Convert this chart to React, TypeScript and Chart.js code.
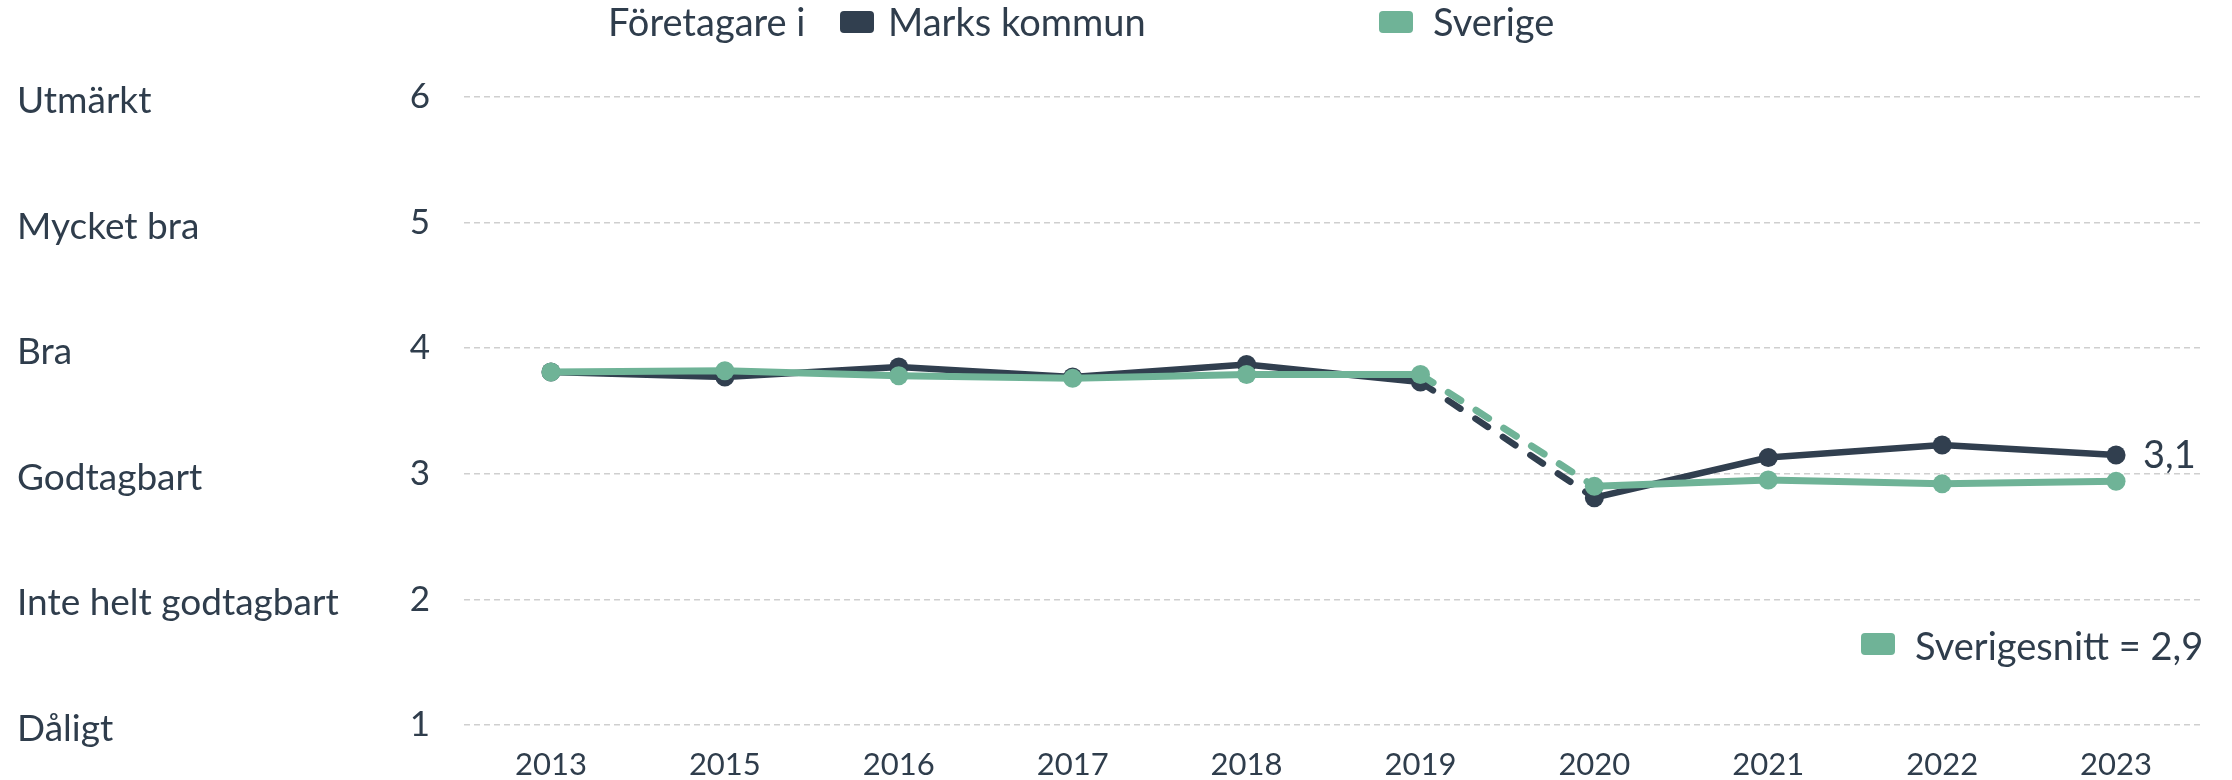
import React, { useEffect, useRef } from "react";
import { Chart, registerables } from "chart.js";

Chart.register(...registerables);

const years = ["2013", "2015", "2016", "2017", "2018", "2019", "2020", "2021", "2022", "2023"];
const marksKommun = [3.81, 3.77, 3.85, 3.77, 3.87, 3.73, 2.81, 3.13, 3.23, 3.15];
const sverige = [3.81, 3.82, 3.78, 3.76, 3.79, 3.79, 2.9, 2.95, 2.92, 2.94];
const yTickValues = [1, 2, 3, 4, 5, 6];
const ratingLabels = ["Dåligt", "Inte helt godtagbart", "Godtagbart", "Bra", "Mycket bra", "Utmärkt"];
const legendTitle = "Företagare i";
const seriesNames = ["Marks kommun", "Sverige"];
const averageLabel = "Sverigesnitt = 2,9";
const lastValueLabel = "3,1";

const DARK = "#313f4f";
const GREEN = "#6fb397";
const TEXT = "#2f3d4c";
const FONT = "Lato, 'Open Sans', sans-serif";

function roundRect(ctx: CanvasRenderingContext2D, x: number, y: number, w: number, h: number, r: number) {
  ctx.beginPath();
  ctx.moveTo(x + r, y);
  ctx.lineTo(x + w - r, y);
  ctx.quadraticCurveTo(x + w, y, x + w, y + r);
  ctx.lineTo(x + w, y + h - r);
  ctx.quadraticCurveTo(x + w, y + h, x + w - r, y + h);
  ctx.lineTo(x + r, y + h);
  ctx.quadraticCurveTo(x, y + h, x, y + h - r);
  ctx.lineTo(x, y + r);
  ctx.quadraticCurveTo(x, y, x + r, y);
  ctx.closePath();
  ctx.fill();
}

const annotationsPlugin = {
  id: "annotations",
  afterDraw(chart: any) {
    const ctx: CanvasRenderingContext2D = chart.ctx;
    const yScale = chart.scales.y;
    ctx.save();
    ctx.fillStyle = TEXT;
    ctx.textAlign = "left";
    ctx.textBaseline = "middle";
    ctx.font = `37px ${FONT}`;
    yTickValues.forEach((v, i) => {
      ctx.fillText(ratingLabels[i], 17, yScale.getPixelForValue(v) + 4);
    });

    // top legend
    ctx.textBaseline = "alphabetic";
    ctx.font = `38px ${FONT}`;
    ctx.fillStyle = TEXT;
    ctx.fillText(legendTitle, 608, 36);
    ctx.fillStyle = DARK;
    roundRect(ctx, 840, 11, 34, 22, 4);
    ctx.fillStyle = TEXT;
    ctx.fillText(seriesNames[0], 888, 36);
    ctx.fillStyle = GREEN;
    roundRect(ctx, 1379, 11, 34, 22, 4);
    ctx.fillStyle = TEXT;
    ctx.fillText(seriesNames[1], 1433, 36);

    // average legend
    ctx.fillStyle = GREEN;
    roundRect(ctx, 1861, 633, 34, 22, 4);
    ctx.fillStyle = TEXT;
    ctx.fillText(averageLabel, 1915, 660);

    // last value label
    const meta = chart.getDatasetMeta(1);
    const last = meta.data[meta.data.length - 1];
    ctx.font = `38px ${FONT}`;
    ctx.textBaseline = "middle";
    ctx.fillText(lastValueLabel, last.x + 27, last.y + 1);
    ctx.restore();
  },
};

export default function App() {
  const canvasRef = useRef<HTMLCanvasElement | null>(null);

  useEffect(() => {
    document.body.style.margin = "0";
    const canvas = canvasRef.current;
    if (!canvas) return;
    const dash = (ctx: any) => (ctx.p0DataIndex === 5 ? [15, 18] : undefined);
    const chart = new Chart(canvas, {
      type: "line",
      data: {
        labels: years,
        datasets: [
          {
            label: seriesNames[1],
            data: sverige,
            borderColor: GREEN,
            backgroundColor: GREEN,
            pointBackgroundColor: GREEN,
            pointBorderColor: GREEN,
            borderWidth: 7,
            pointRadius: 9.5,
            pointBorderWidth: 0,
            borderCapStyle: "round",
            borderJoinStyle: "round",
            tension: 0,
            order: 0,
            segment: { borderDash: dash },
          },
          {
            label: seriesNames[0],
            data: marksKommun,
            borderColor: DARK,
            backgroundColor: DARK,
            pointBackgroundColor: DARK,
            pointBorderColor: DARK,
            borderWidth: 6.5,
            pointRadius: 9.5,
            pointBorderWidth: 0,
            borderCapStyle: "round",
            borderJoinStyle: "round",
            tension: 0,
            order: 1,
            segment: { borderDash: dash },
          },
        ],
      },
      options: {
        responsive: false,
        animation: false,
        layout: { padding: { top: 97, right: 29, bottom: 0, left: 0 } },
        plugins: { legend: { display: false }, tooltip: { enabled: false } },
        scales: {
          x: {
            type: "category",
            offset: true,
            grid: { display: false, drawTicks: false },
            border: { display: false },
            ticks: { color: TEXT, font: { family: FONT, size: 31 }, padding: 21, maxRotation: 0 },
            afterFit: (scale: any) => {
              scale.height = 55;
            },
          },
          y: {
            min: 1,
            max: 6,
            grid: { color: "#cfcfcf", lineWidth: 1.5, drawTicks: false },
            border: { display: false, dash: [6, 4] },
            ticks: {
              stepSize: 1,
              color: TEXT,
              font: { family: FONT, size: 35 },
              padding: 34,
            },
            afterFit: (scale: any) => {
              scale.width = 464;
            },
          },
        },
      },
      plugins: [annotationsPlugin],
    });
    return () => chart.destroy();
  }, []);

  return (
    <div style={{ width: 2232, height: 780 }}>
      <canvas ref={canvasRef} width={2232} height={780} style={{ display: "block" }} />
    </div>
  );
}
